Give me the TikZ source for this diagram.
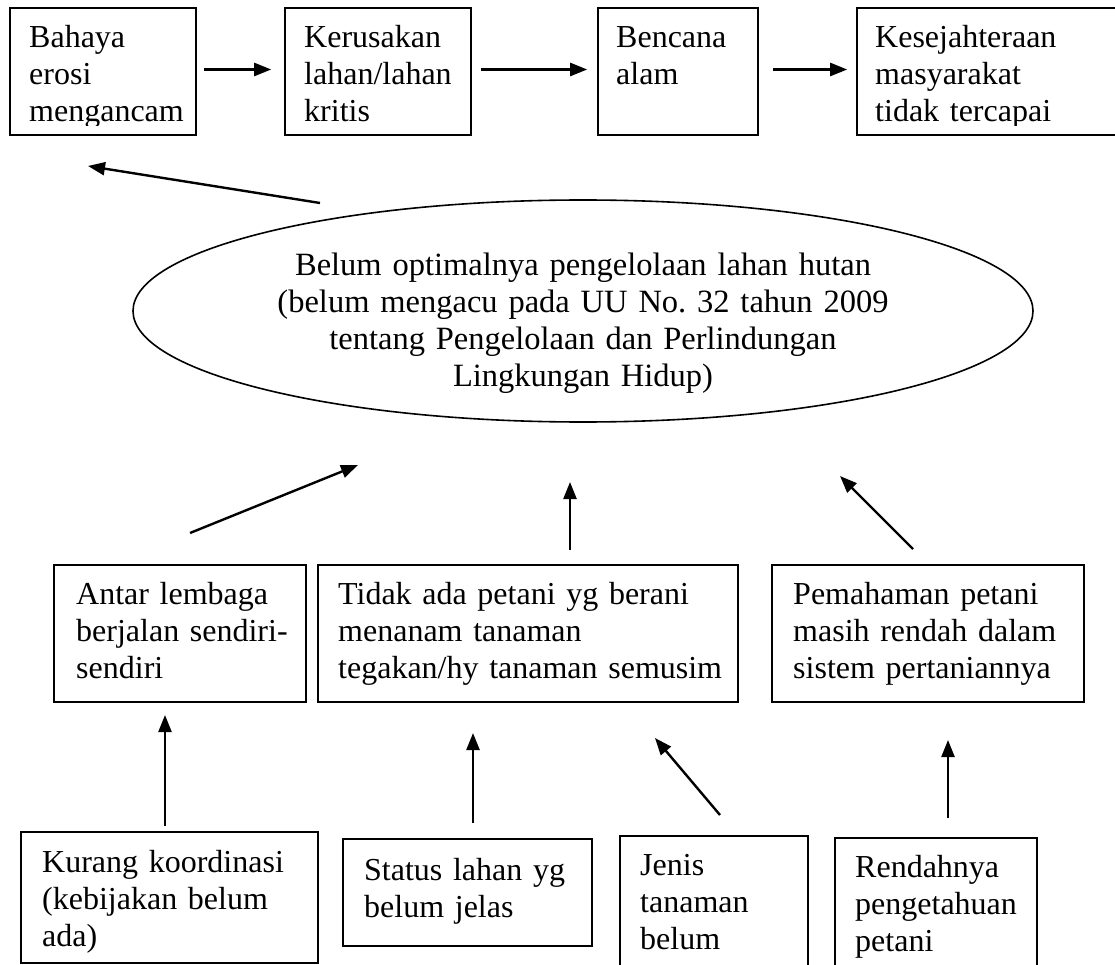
\documentclass[tikz,border=0pt]{standalone}
\usepackage{fontspec}
\setmainfont{Liberation Serif}
\usetikzlibrary{arrows.meta,shapes.geometric,fit,calc}
\frenchspacing
\begin{document}
\begin{tikzpicture}[x=1pt,y=-1pt,
  box/.style={draw,line width=1.6pt,inner sep=0pt},
  txt/.style={font=\fontsize{32}{37}\selectfont,align=left,text width=430pt,inner sep=0pt,anchor=base west},
  ctxt/.style={font=\fontsize{32.5}{37}\selectfont,align=center,text width=800pt,inner sep=0pt,anchor=base},
  arr/.style={line width=2.4pt,-{Triangle[length=17pt,width=13pt]}},
]
\useasboundingbox (0,0) rectangle (1115,965);
\clip (0,0) rectangle (1115,965);
\fill[white] (0,0) rectangle (1115,965);

% top row
\node[box,fit={(10,8) (196,135)}] (b1) {};
\node[box,fit={(285,8) (471,135)}] (b2) {};
\node[box,fit={(598,8) (758,135)}] (b3) {};
\node[box,fit={(857,8) (1118,135)}] (b4) {};
\begin{scope}\clip (10,8) rectangle (196,126);
\node[txt] (t1) at (29,48) {Bahaya\\erosi\\mengancam};\end{scope}
\begin{scope}\clip (285,8) rectangle (471,126);
\node[txt] (t2) at (304,48) {Kerusakan\\lahan/lahan\\kritis};\end{scope}
\begin{scope}\clip (598,8) rectangle (758,126);
\node[txt] (t3) at (616,48) {Bencana\\alam};\end{scope}
\begin{scope}\clip (857,8) rectangle (1118,126);
\node[txt] (t4) at (875,48) {Kesejahteraan\\masyarakat\\tidak tercapai};\end{scope}

% ellipse
\node[draw,ellipse,line width=1.6pt,inner sep=0pt,minimum width=900pt,minimum height=222pt] (el) at (583,311) {};
\node[ctxt] (elt) at (583,276) {Belum optimalnya pengelolaan lahan hutan\\(belum mengacu pada UU No. 32 tahun 2009\\tentang Pengelolaan dan Perlindungan\\Lingkungan Hidup)};

% middle row
\node[box,fit={(54,565) (306,702)}] (mA) {};
\node[box,fit={(318,565) (738,702)}] (mB) {};
\node[box,fit={(772,565) (1084,702)}] (mC) {};
\node[txt] (tA) at (76,604) {Antar lembaga\\berjalan sendiri-\\sendiri};
\node[txt] (tB) at (338,604) {Tidak ada petani yg berani\\menanam tanaman\\tegakan/hy tanaman semusim};
\node[txt] (tC) at (793,604) {Pemahaman petani\\masih rendah dalam\\sistem pertaniannya};

% bottom row
\node[box,fit={(21,832) (318,963)}] (bD) {};
\node[box,fit={(343,839) (592,946)}] (bE) {};
\node[box,fit={(620,836) (808,970)}] (bF) {};
\node[box,fit={(835,838) (1037,970)}] (bG) {};
\node[txt] (tD) at (42,872) {Kurang koordinasi\\(kebijakan belum\\ada)};
\node[txt] (tE) at (364,880) {Status lahan yg\\belum jelas};
\begin{scope}\clip (620,836) rectangle (808,956);
\node[txt] (tF) at (640,875) {Jenis\\tanaman\\belum};\end{scope}
\begin{scope}\clip (835,838) rectangle (1037,957);
\node[txt] (tG) at (855,877) {Rendahnya\\pengetahuan\\petani};\end{scope}

% arrow end points
\coordinate (e0s) at (320,203); \coordinate (e0e) at (88,166);
\coordinate (aAs) at (190,533); \coordinate (aAe) at (358,465);
\coordinate (aBs) at (570,550); \coordinate (aBe) at (570,482);
\coordinate (aCs) at (913,549); \coordinate (aCe) at (840,476);
\coordinate (aDs) at (165,826); \coordinate (aDe) at (165,715);
\coordinate (aEs) at (473,823); \coordinate (aEe) at (473,733);
\coordinate (aFs) at (720,815); \coordinate (aFe) at (655,738);
\coordinate (aGs) at (948,818); \coordinate (aGe) at (948,740);

\draw[arr] ([xshift=7pt,yshift=2pt]b1.east) -- ([xshift=-13pt,yshift=2pt]b2.west);
\draw[arr] ([xshift=9pt,yshift=2pt]b2.east) -- ([xshift=-10pt,yshift=2pt]b3.west);
\draw[arr] ([xshift=14pt,yshift=2pt]b3.east) -- ([xshift=-9pt,yshift=2pt]b4.west);
\draw[arr] (e0s) -- (e0e);
\draw[arr] (aAs) -- (aAe);
\draw[arr] (aBs) -- (aBe);
\draw[arr] (aCs) -- (aCe);
\draw[arr] (aDs) -- (aDe);
\draw[arr] (aEs) -- (aEe);
\draw[arr] (aFs) -- (aFe);
\draw[arr] (aGs) -- (aGe);
\end{tikzpicture}
\end{document}
